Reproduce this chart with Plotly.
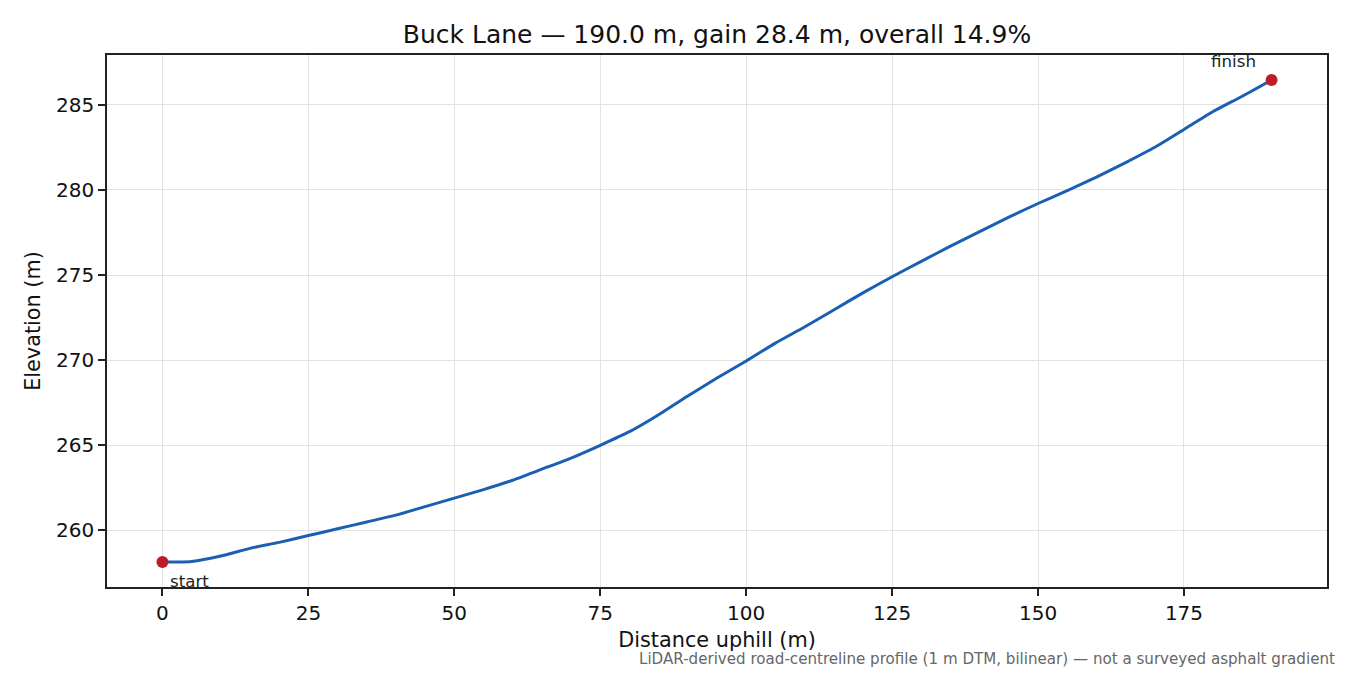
import plotly.graph_objects as go

distance_m = [0, 2.5, 5, 10, 15, 20, 25, 30, 35, 40, 45, 50, 55, 60, 65, 70, 75, 80, 85, 90,
              95, 100, 105, 110, 115, 120, 125, 130, 135, 140, 145, 150, 155, 160, 165,
              170, 175, 180, 185, 190]
elevation_m = [258.15, 258.15, 258.18, 258.5, 258.95, 259.3, 259.7, 260.1, 260.5, 260.9,
               261.4, 261.9, 262.4, 262.95, 263.6, 264.25, 265.0, 265.8, 266.8, 267.9,
               268.95, 269.95, 271.0, 271.95, 272.95, 273.95, 274.9, 275.8, 276.7, 277.55,
               278.4, 279.2, 279.95, 280.75, 281.6, 282.5, 283.55, 284.6, 285.5, 286.45]
x_ticks = [0, 25, 50, 75, 100, 125, 150, 175]
y_ticks = [260, 265, 270, 275, 280, 285]

title = "Buck Lane — 190.0 m, gain 28.4 m, overall 14.9%"
note = "LiDAR-derived road-centreline profile (1 m DTM, bilinear) — not a surveyed asphalt gradient"

line_col = "#1a5fb4"
pt_col = "#c01c28"
font = "DejaVu Sans"

# page body has an 8px margin, the figure starts at (8, 8)
W, H = 1342, 667

fig = go.Figure()
fig.add_trace(go.Scatter(x=distance_m, y=elevation_m, mode="lines",
                         line=dict(color=line_col, width=3, shape="spline", smoothing=0.6),
                         hoverinfo="x+y"))
fig.add_trace(go.Scatter(x=[distance_m[0], distance_m[-1]], y=[elevation_m[0], elevation_m[-1]],
                         mode="markers", marker=dict(color=pt_col, size=12)))

fig.add_annotation(x=distance_m[0], y=elevation_m[0], text="start", showarrow=False,
                   xanchor="left", yanchor="top", xshift=6, yshift=-7,
                   font=dict(size=16.7, color="#222"))
fig.add_annotation(x=distance_m[-1], y=elevation_m[-1], text="finish", showarrow=False,
                   xanchor="right", yanchor="bottom", xshift=-14, yshift=7,
                   font=dict(size=16.7, color="#222"))
fig.add_annotation(xref="paper", yref="paper", x=1.008, y=-0.136, text=note, showarrow=False,
                   xanchor="right", yanchor="middle", font=dict(size=15.1, color="#666"))

axis = dict(showline=True, linecolor="#222", linewidth=1.7, mirror=True, ticks="outside",
            ticklen=7, tickwidth=1.7, tickcolor="#222", showgrid=True, gridcolor="#e2e2e2",
            gridwidth=1.2, zeroline=False, tickfont=dict(size=20, color="#111"))
fig.update_xaxes(axis, range=[-9.5, 199.5], tickvals=x_ticks,
                 title=dict(text="Distance uphill (m)", font=dict(size=20.8), standoff=9))
fig.update_yaxes(axis, range=[256.68, 287.92], tickvals=y_ticks,
                 title=dict(text="Elevation (m)", font=dict(size=20.8), standoff=10))

fig.update_layout(
    width=W, height=H, showlegend=False,
    plot_bgcolor="white", paper_bgcolor="white",
    font=dict(family=font, color="#111"),
    margin=dict(l=99, r=23, t=47, b=88),
    title=dict(text=title, x=0.5, xref="paper", xanchor="center", y=1 - 26 / H, yanchor="middle",
               font=dict(size=25)),
)

fig.write_html("out.html")
